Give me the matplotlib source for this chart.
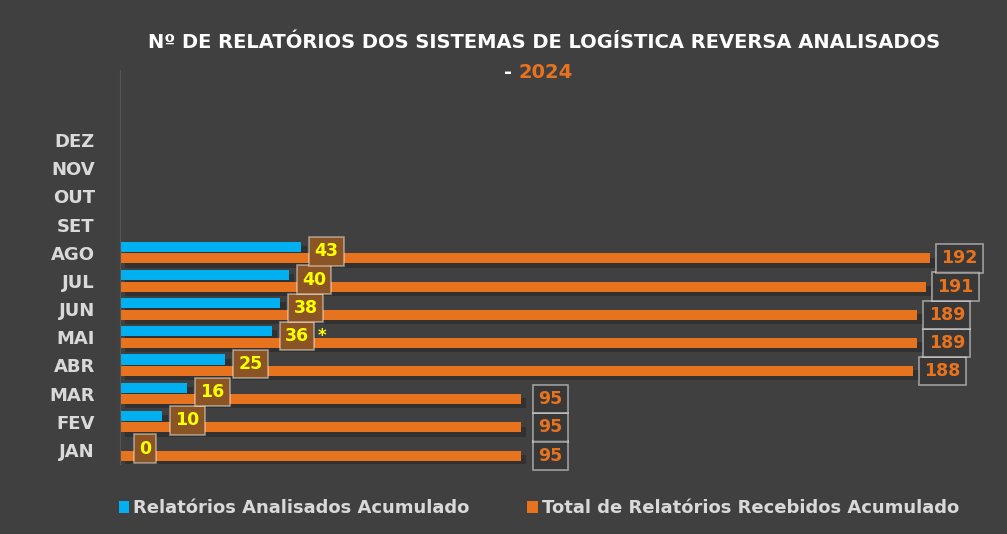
import numpy as np
import matplotlib.pyplot as plt
import matplotlib.patheffects as pe

meses = ['JAN', 'FEV', 'MAR', 'ABR', 'MAI', 'JUN', 'JUL', 'AGO', 'SET', 'OUT', 'NOV', 'DEZ']
analisados = [0, 10, 16, 25, 36, 38, 40, 43]
recebidos = [95, 95, 95, 188, 189, 189, 191, 192]

bg = '#404040'
azul = '#00b0f0'
laranja = '#e8731f'
amarelo = '#ffff00'
cinza = '#d9d9d9'

fig = plt.figure(figsize=(10.07, 5.34), dpi=100)
fig.patch.set_facecolor(bg)
ax = fig.add_axes([0.119, 0.131, 0.838, 0.633])
ax.set_facecolor(bg)

y = np.arange(len(meses))
n = len(analisados)
h = 0.36
sombra = [pe.SimplePatchShadow(offset=(4, -3), shadow_rgbFace='black', alpha=0.22), pe.Normal()]

b1 = ax.barh(y[:n] + 0.21, analisados, height=h, color=azul, label='Relatórios Analisados Acumulado')
b2 = ax.barh(y[:n] - 0.2, recebidos, height=h, color=laranja, label='Total de Relatórios Recebidos Acumulado')
for b in list(b1) + list(b2):
    b.set_path_effects(sombra)

for i, v in enumerate(analisados):
    ax.text(v + 6, y[i] + 0.05, str(v), ha='center', va='center', color=amarelo,
            fontsize=12.5, fontweight='bold',
            bbox=dict(boxstyle='square,pad=0.3', fc='#8a5424', ec=(1, 1, 1, 0.45), lw=1.2))
ax.text(analisados[4] + 12, y[4] + 0.05, '*', ha='center', va='center', color=amarelo,
        fontsize=12, fontweight='bold')

for i, v in enumerate(recebidos):
    ax.text(v + 7, y[i] - 0.2, str(v), ha='center', va='center', color=laranja,
            fontsize=12.5, fontweight='bold',
            bbox=dict(boxstyle='square,pad=0.3', fc=(0.2, 0.2, 0.2, 0.6), ec=(1, 1, 1, 0.5), lw=1.2))

ax.set_xlim(0, 200)
ax.set_ylim(-0.5, 11.5)
ax.set_yticks(y)
ax.set_yticklabels(meses, color=cinza, fontsize=13, fontweight='bold')
ax.tick_params(axis='y', length=0, pad=18)
ax.set_xticks([])
for s in ['top', 'right', 'bottom']:
    ax.spines[s].set_visible(False)
ax.spines['left'].set_color('#555555')
ax.spines['left'].set_bounds(-0.5, 13.5)

fig.text(0.54, 0.92, 'Nº DE RELATÓRIOS DOS SISTEMAS DE LOGÍSTICA REVERSA ANALISADOS',
         ha='center', va='center', color='white', fontsize=14, fontweight='bold')
fig.text(0.515, 0.865, '- ', ha='right', va='center', color='white', fontsize=14, fontweight='bold')
fig.text(0.515, 0.865, '2024', ha='left', va='center', color=laranja, fontsize=14, fontweight='bold')

leg = fig.legend(handles=[b1, b2], loc='center', bbox_to_anchor=(0.535, 0.048), ncol=2,
                 frameon=False, fontsize=13, handlelength=0.6, handleheight=0.6,
                 handletextpad=0.2, columnspacing=3.2)
for t in leg.get_texts():
    t.set_color(cinza)
    t.set_fontweight('bold')
for hnd in leg.legend_handles:
    hnd.set_path_effects([])

fig.savefig('out.png', dpi=100, facecolor=bg)
